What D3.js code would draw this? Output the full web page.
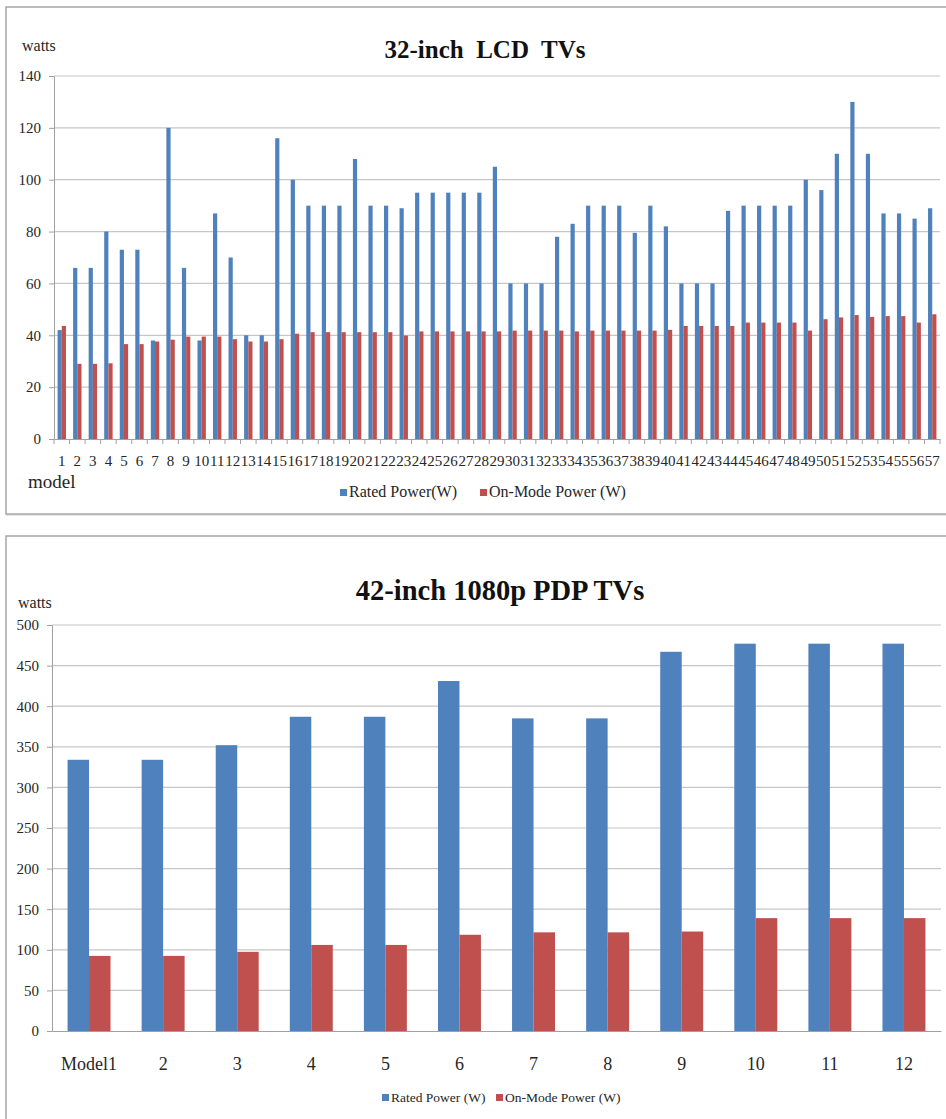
<!DOCTYPE html>
<html><head><meta charset="utf-8">
<script src="https://cdn.jsdelivr.net/npm/d3@7"></script>
<style>body{margin:0;background:#fff} svg{display:block} text{font-family:'Liberation Serif','DejaVu Serif',serif}</style>
</head><body>
<svg id="c" width="946" height="1119"></svg>
<script>
// ---------- data ----------
const lcdModels = d3.range(1, 58).map(String);
const lcdRated = [42,66,66,80,73,73,38,120,66,38,87,70,40,40,116,100,90,90,90,108,90,90,89,95,95,95,95,95,105,60,60,60,78,83,90,90,90,79.5,90,82,60,60,60,88,90,90,90,90,100,96,110,130,110,87,87,85,89];
const lcdOnMode = [43.6,29,29,29.2,36.6,36.6,37.6,38.3,39.5,39.5,39.5,38.5,37.6,37.6,38.5,40.6,41.2,41.2,41.2,41.2,41.2,41.2,39.9,41.5,41.5,41.5,41.5,41.5,41.5,41.8,41.8,41.8,41.8,41.5,41.8,41.8,41.8,41.8,41.8,42.1,43.6,43.6,43.6,43.6,44.9,44.9,44.9,44.9,41.8,46.2,46.9,47.8,47.1,47.4,47.4,44.9,48.1];
const lcdTicks = [0,20,40,60,80,100,120,140];

const pdpModels = ["Model1","2","3","4","5","6","7","8","9","10","11","12"];
const pdpRated = [334,334,352,387,387,431,385,385,467,477,477,477];
const pdpOnMode = [92.5,92.5,97.5,106,106,118.5,121.5,121.5,122.5,139,139,139];
const pdpTicks = [0,50,100,150,200,250,300,350,400,450,500];

const seriesKeys = ["rated","onmode"];
const colors = {rated:"#4F81BD", onmode:"#C0504D"};

const svg = d3.select("#c");
const FONT = "'Liberation Serif', 'DejaVu Serif', serif";
const TXT = "#262626";

function drawFrame(x, y, w, h) {
  svg.append("rect").attr("x", x+1).attr("y", y+1).attr("width", w).attr("height", h)
    .attr("fill", "none").attr("stroke", "#e4e4e4").attr("stroke-width", 2);
  svg.append("rect").attr("x", x).attr("y", y).attr("width", w).attr("height", h)
    .attr("fill", "#fff").attr("stroke", "#a6a6a6").attr("stroke-width", 1.5);
}

function drawChart(o) {
  const g = svg.append("g");
  const y = d3.scaleLinear().domain([0, o.yMax]).range([o.bottom, o.top]);
  const x0 = d3.scaleBand().domain(o.cats).range([o.left, o.right])
    .paddingInner(o.pad).paddingOuter(o.pad / 2);
  const x1 = d3.scaleBand().domain(seriesKeys).range([0, x0.bandwidth()]);

  // gridlines
  g.selectAll(".grid").data(o.ticks.filter(t => t > 0)).join("line")
    .attr("x1", o.left).attr("x2", o.right)
    .attr("y1", d => y(d)).attr("y2", d => y(d))
    .attr("stroke", "#c6c6c6").attr("stroke-width", 1.2);

  // y axis
  const yAxis = d3.axisLeft(y).tickValues(o.ticks).tickSize(5).tickPadding(o.yPad);
  const ya = g.append("g").attr("transform", `translate(${o.left},0)`).call(yAxis);
  ya.attr("font-family", null);
  ya.select(".domain").attr("stroke", "#a0a0a0");
  ya.selectAll(".tick line").attr("stroke", "#a0a0a0");
  ya.selectAll("text").style("font-family", FONT).style("font-size", o.yFont + "px").attr("fill", TXT);

  // bars
  const rows = o.cats.map((c, i) => ({cat: c, rated: o.rated[i], onmode: o.onmode[i]}));
  const grp = g.selectAll(".grp").data(rows).join("g")
    .attr("transform", d => `translate(${x0(d.cat)},0)`);
  grp.selectAll("rect").data(d => seriesKeys.map(k => ({k, v: d[k]}))).join("rect")
    .attr("x", d => x1(d.k)).attr("width", x1.bandwidth())
    .attr("y", d => y(d.v)).attr("height", d => y(0) - y(d.v))
    .attr("fill", d => colors[d.k]);

  // x axis
  const xa = g.append("g").attr("transform", `translate(0,${o.bottom})`)
    .call(d3.axisBottom(x0).tickSize(0).tickPadding(o.xPad));
  xa.attr("font-family", null);
  xa.select(".domain").attr("stroke", "#a0a0a0").attr("stroke-width", 1.2);
  xa.selectAll("text").style("font-family", FONT).style("font-size", o.xFont + "px").attr("fill", TXT);
  if (o.xTicks) {
    const half = x0.step() * x0.paddingInner() / 2;
    const bounds = o.cats.map(c => x0(c) - half).concat([x0(o.cats[o.cats.length-1]) + x0.bandwidth() + half]);
    g.selectAll(".xt").data(bounds).join("line")
      .attr("x1", d => d).attr("x2", d => d)
      .attr("y1", o.bottom).attr("y2", o.bottom + 5)
      .attr("stroke", "#a0a0a0");
  }

  // texts
  g.append("text").attr("x", o.titleX).attr("y", o.titleY).attr("text-anchor", "middle")
    .attr("xml:space", "preserve")
    .style("font-family", FONT).attr("font-weight", "bold").style("font-size", o.titleFont + "px")
    .attr("fill", "#111").text(o.title);
  g.append("text").attr("x", o.unitX).attr("y", o.unitY)
    .style("font-family", FONT).style("font-size", "16px").attr("fill", TXT).text("watts");
  if (o.xLabel) {
    g.append("text").attr("x", o.xLabel[0]).attr("y", o.xLabel[1])
      .style("font-family", FONT).style("font-size", "19px").attr("fill", TXT).text("model");
  }
  // legend
  o.legend.forEach(L => {
    g.append("rect").attr("x", L.x).attr("y", o.legendY - L.s).attr("width", L.s).attr("height", L.s)
      .attr("fill", colors[L.k]);
    g.append("text").attr("x", L.x + L.s + 2).attr("y", o.legendY + 1)
      .style("font-family", FONT).style("font-size", o.legendFont + "px").attr("fill", TXT).text(L.label);
  });
}

drawFrame(6, 7, 960, 507);
drawFrame(6, 536, 960, 600);

drawChart({
  cats: lcdModels, rated: lcdRated, onmode: lcdOnMode, yMax: 140, ticks: lcdTicks,
  left: 54, right: 940, top: 76, bottom: 439, pad: 0.46,
  yFont: 15, yPad: 8, xFont: 15, xPad: 16, xTicks: true,
  title: "32-inch  LCD  TVs", titleX: 485, titleY: 58, titleFont: 25,
  unitX: 22, unitY: 51, xLabel: [28, 488],
  legendY: 496, legendFont: 16,
  legend: [{k:"rated", x:340, s:7, label:"Rated Power(W)"}, {k:"onmode", x:480, s:7, label:"On-Mode Power (W)"}]
});

drawChart({
  cats: pdpModels, rated: pdpRated, onmode: pdpOnMode, yMax: 500, ticks: pdpTicks,
  left: 52, right: 941, top: 625, bottom: 1031, pad: 0.42,
  yFont: 15, yPad: 8, xFont: 18, xPad: 26, xTicks: false,
  title: "42-inch 1080p PDP TVs", titleX: 500, titleY: 600, titleFont: 28.5,
  unitX: 18, unitY: 608,
  legendY: 1101, legendFont: 13.5,
  legend: [{k:"rated", x:382, s:7, label:"Rated Power (W)"}, {k:"onmode", x:496, s:7, label:"On-Mode Power (W)"}]
});
</script>
</body></html>
